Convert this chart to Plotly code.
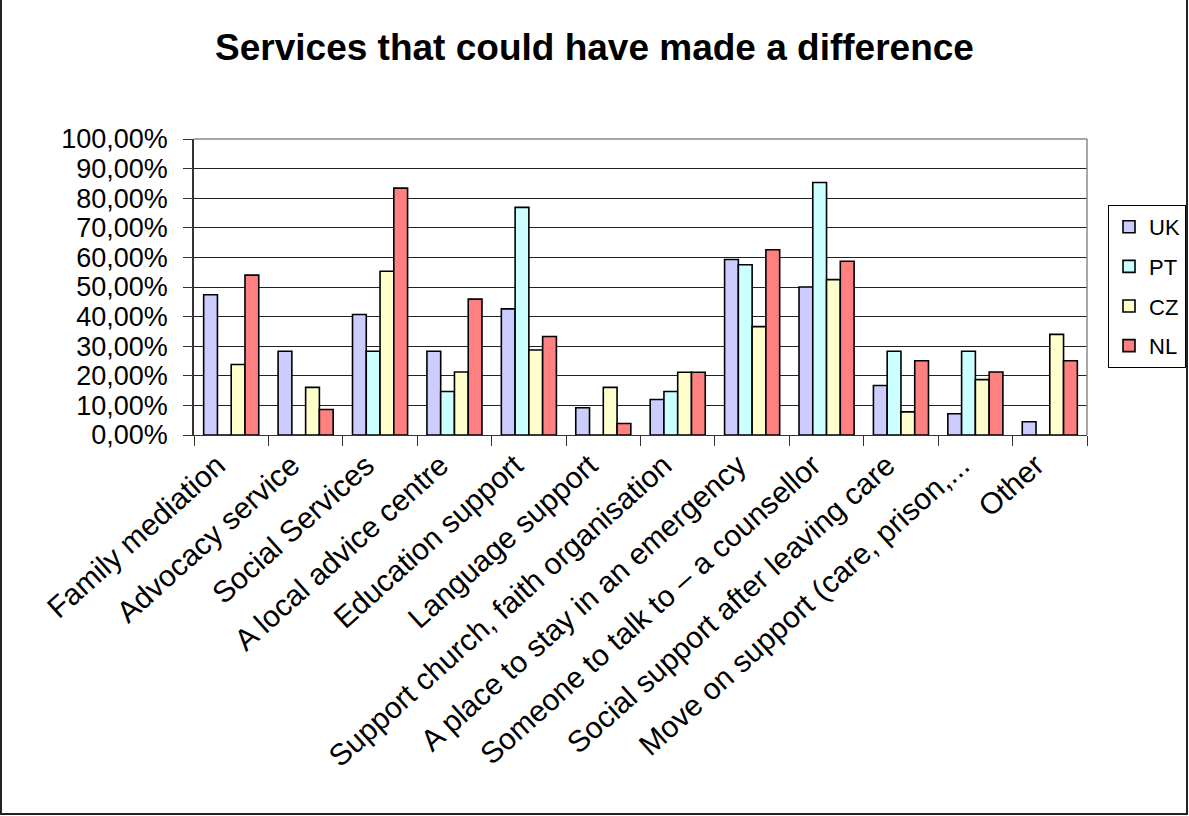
import plotly.graph_objects as go

categories = [
    "Family mediation",
    "Advocacy service",
    "Social Services",
    "A local advice centre",
    "Education support",
    "Language support",
    "Support church, faith organisation",
    "A place to stay in an emergency",
    "Someone to talk to \u2013 a counsellor",
    "Social support after leaving care",
    "Move on support (care, prison,...",
    "Other",
]

uk = [0.474, 0.283, 0.407, 0.283, 0.426, 0.092, 0.120, 0.593, 0.500, 0.167, 0.072, 0.045]
pt = [0.0, 0.0, 0.283, 0.147, 0.769, 0.0, 0.147, 0.575, 0.853, 0.283, 0.283, 0.0]
cz = [0.238, 0.161, 0.553, 0.213, 0.287, 0.161, 0.212, 0.366, 0.525, 0.078, 0.187, 0.340]
nl = [0.540, 0.086, 0.834, 0.459, 0.333, 0.039, 0.212, 0.626, 0.587, 0.251, 0.213, 0.251]

series = [
    ("UK", uk, "#CCCCFF"),
    ("PT", pt, "#CCFFFF"),
    ("CZ", cz, "#FFFFCC"),
    ("NL", nl, "#FF8080"),
]

W, H = 1189, 816
L, R, T, B = 194, 102, 139, 381
pw, ph = W - L - R, H - T - B

fig = go.Figure()
for name, vals, color in series:
    fig.add_trace(go.Bar(
        x=categories, y=vals, name=name, legendgroup=name,
        marker=dict(color=color, line=dict(color="black", width=1.6)),
    ))

font = "Liberation Sans, Arial, sans-serif"

fig.update_layout(
    width=W, height=H,
    margin=dict(l=L, r=R, t=T, b=B, autoexpand=False),
    paper_bgcolor="white", plot_bgcolor="white",
    separators=",.",
    barmode="group", bargap=0.26, bargroupgap=0.0,
    font=dict(family=font, color="black"),
    title=dict(
        text="<b>Services that could have made a difference</b>",
        x=0.5, xref="container", xanchor="center",
        y=1 - 47 / H, yanchor="middle",
        font=dict(size=37, family=font, color="black"),
    ),
    legend=dict(
        x=(1108 - L) / pw, xanchor="left",
        y=(H - B - 205) / ph, yanchor="top",
        bordercolor="black", borderwidth=1,
        font=dict(size=22, family=font),
        tracegroupgap=8,
        itemwidth=30,
        bgcolor="white",
    ),
    xaxis=dict(
        type="category",
        tickangle=-42,
        tickfont=dict(size=30, family=font),
        ticklabelshift=-14,
        ticks="outside", ticklen=10, tickcolor="#333",
        tickson="boundaries",
        showline=True, linecolor="#333", linewidth=1,
        showgrid=False, mirror=False,
    ),
    yaxis=dict(
        range=[0, 1.0], dtick=0.1, tick0=0,
        tickformat=".2%",
        tickfont=dict(size=27, family=font),
        ticks="outside", ticklen=9, tickcolor="#333",
        ticklabelstandoff=10,
        showline=True, linecolor="#333", linewidth=1.5,
        showgrid=True, gridcolor="#222", gridwidth=1,
        zeroline=False,
    ),
    shapes=[
        # plot frame: top and right edges
        dict(type="line", xref="paper", yref="paper", x0=0, x1=1, y0=1, y1=1,
             line=dict(color="#888", width=1.5)),
        dict(type="line", xref="paper", yref="paper", x0=1, x1=1, y0=0, y1=1,
             line=dict(color="#888", width=1.5)),
        # outer chart border
        dict(type="rect", xref="paper", yref="paper",
             x0=(1 - L) / pw, x1=(W - 2 - L) / pw,
             y0=(H - B - (H - 2)) / ph, y1=(H - B + 5) / ph,
             line=dict(color="#222", width=2), layer="above"),
    ],
)

fig.write_html("out.html")
